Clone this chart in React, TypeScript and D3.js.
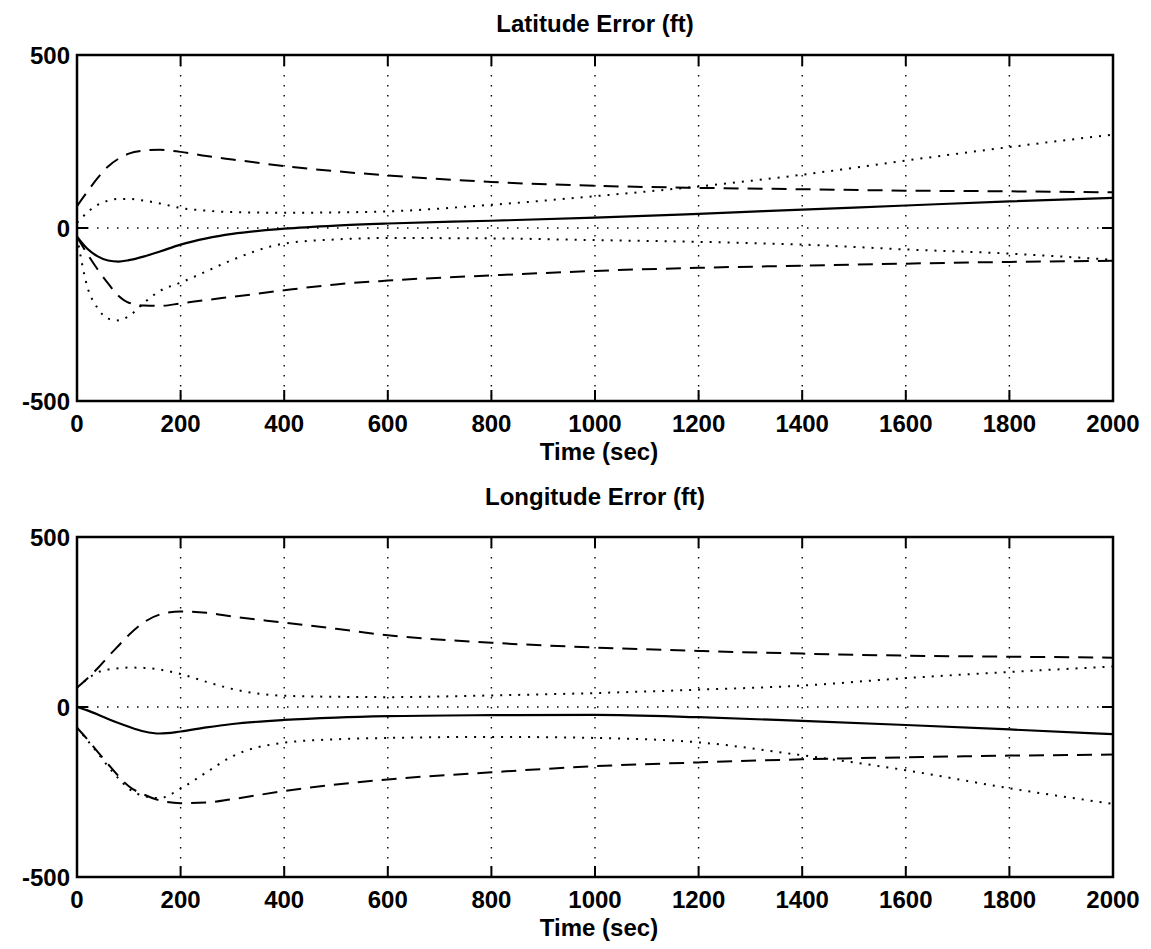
import React, { useRef, useEffect } from 'react'
import * as d3 from 'd3'

// time samples (sec) shared by every curve
const time = [0, 20, 40, 60, 80, 100, 130, 160, 200, 250, 300, 400, 500, 600, 800, 1000, 1200, 1400, 1600, 1800, 2000]

// Latitude error (ft)
const latMean = [-25, -60, -82, -94, -97, -93, -82, -68, -48, -30, -17, -2, 7, 13, 21, 30, 41, 53, 65, 77, 87]
const latUpperDash = [63, 105, 145, 178, 200, 215, 224, 226, 220, 208, 198, 179, 164, 152, 133, 122, 116, 112, 108, 106, 103]
const latLowerDash = [-25, -75, -120, -160, -196, -216, -224, -225, -218, -208, -199, -180, -163, -152, -137, -124, -115, -109, -103, -98, -95]
const latUpperDot = [15, 45, 67, 79, 84, 84, 79, 71, 58, 50, 46, 44, 45, 48, 67, 92, 120, 154, 195, 234, 270]
const latLowerDot = [-25, -170, -232, -262, -267, -255, -215, -182, -158, -125, -92, -45, -33, -29, -30, -35, -40, -48, -62, -74, -92]

// Longitude error (ft)
const lonMean = [0, -10, -22, -35, -47, -58, -72, -78, -72, -60, -50, -38, -31, -27, -24, -23, -30, -41, -53, -66, -80]
const lonUpperDash = [57, 84, 114, 148, 180, 212, 250, 272, 281, 277, 266, 248, 230, 211, 189, 175, 165, 157, 151, 148, 145]
const lonLowerDash = [-61, -95, -132, -168, -203, -233, -258, -275, -283, -281, -271, -247, -228, -213, -192, -174, -163, -154, -148, -143, -140]
const lonUpperDot = [57, 82, 102, 110, 114, 116, 115, 110, 97, 74, 53, 33, 30, 29, 34, 41, 51, 63, 85, 103, 119]
const lonLowerDot = [-61, -98, -135, -175, -210, -240, -262, -268, -240, -192, -145, -105, -95, -91, -88, -91, -104, -142, -186, -239, -285]

const xTicks = [0, 200, 400, 600, 800, 1000, 1200, 1400, 1600, 1800, 2000]
const yTicks = [-500, 0, 500]

const panels = [
    { title: 'Latitude Error (ft)', top: 55, bottom: 401, titleY: 32, series: [latMean, latUpperDash, latLowerDash, latUpperDot, latLowerDot] },
    { title: 'Longitude Error (ft)', top: 537, bottom: 877, titleY: 505, series: [lonMean, lonUpperDash, lonLowerDash, lonUpperDot, lonLowerDot] },
]

// solid, dashed, dashed, dotted, dotted
const dashes = [null, '15,9', '15,9', '2,7', '2,7']

const FONT = '"Liberation Sans", Arial, Helvetica, sans-serif'

const App = () => {
    const chartRef = useRef<SVGSVGElement | null>(null)

    useEffect(() => {
        if (!chartRef.current) return
        const svg = d3.select(chartRef.current)
        svg.selectAll('*').remove()

        const left = 77, right = 1113
        const x = d3.scaleLinear().domain([0, 2000]).range([left, right])

        panels.forEach((p) => {
            const y = d3.scaleLinear().domain([-500, 500]).range([p.bottom, p.top])
            const g = svg.append('g')

            // grid
            g.selectAll('.vgrid')
                .data(xTicks.slice(1, -1))
                .join('line')
                .attr('x1', (d) => x(d)).attr('x2', (d) => x(d))
                .attr('y1', p.top).attr('y2', p.bottom)
                .attr('stroke', '#000').attr('stroke-width', 1.4)
                .attr('stroke-dasharray', '1.5,8.5')
            g.append('line')
                .attr('x1', left).attr('x2', right)
                .attr('y1', y(0)).attr('y2', y(0))
                .attr('stroke', '#000').attr('stroke-width', 1.4)
                .attr('stroke-dasharray', '1.5,8.5')

            // curves
            const line = d3.line<number>()
                .x((_, i) => x(time[i]))
                .y((d) => y(d))
                .curve(d3.curveMonotoneX)
            p.series.forEach((s, i) => {
                g.append('path')
                    .attr('d', line(s))
                    .attr('fill', 'none')
                    .attr('stroke', '#000')
                    .attr('stroke-width', i === 0 ? 2.2 : 2)
                    .attr('stroke-dasharray', dashes[i])
            })

            // ticks (inward, all sides)
            xTicks.slice(1, -1).forEach((t) => {
                g.append('line').attr('x1', x(t)).attr('x2', x(t)).attr('y1', p.bottom).attr('y2', p.bottom - 11)
                    .attr('stroke', '#000').attr('stroke-width', 2)
                g.append('line').attr('x1', x(t)).attr('x2', x(t)).attr('y1', p.top).attr('y2', p.top + 11)
                    .attr('stroke', '#000').attr('stroke-width', 2)
            })
            g.append('line').attr('x1', left).attr('x2', left + 11).attr('y1', y(0)).attr('y2', y(0))
                .attr('stroke', '#000').attr('stroke-width', 2)
            g.append('line').attr('x1', right).attr('x2', right - 11).attr('y1', y(0)).attr('y2', y(0))
                .attr('stroke', '#000').attr('stroke-width', 2)

            // frame
            g.append('rect')
                .attr('x', left).attr('y', p.top)
                .attr('width', right - left).attr('height', p.bottom - p.top)
                .attr('fill', 'none').attr('stroke', '#000').attr('stroke-width', 2.5)

            // tick labels
            g.selectAll('.xl')
                .data(xTicks)
                .join('text')
                .attr('x', (d) => x(d))
                .attr('y', p.bottom + 31)
                .attr('text-anchor', 'middle')
                .attr('font-family', FONT).attr('font-size', 24).attr('font-weight', 'bold')
                .text((d) => d)
            g.selectAll('.yl')
                .data(yTicks)
                .join('text')
                .attr('x', 70)
                .attr('y', (d) => y(d) + 9)
                .attr('text-anchor', 'end')
                .attr('font-family', FONT).attr('font-size', 24).attr('font-weight', 'bold')
                .text((d) => d)

            // titles
            g.append('text')
                .attr('x', (left + right) / 2).attr('y', p.titleY)
                .attr('text-anchor', 'middle')
                .attr('font-family', FONT).attr('font-size', 24).attr('font-weight', 'bold')
                .text(p.title)
            g.append('text')
                .attr('x', (left + right) / 2 + 4).attr('y', p.bottom + 59)
                .attr('text-anchor', 'middle')
                .attr('font-family', FONT).attr('font-size', 24).attr('font-weight', 'bold')
                .text('Time (sec)')
        })
    }, [])

    return (
        <svg ref={chartRef} width={1151} height={949}
            style={{ position: 'absolute', left: 0, top: 0, background: '#fff' }} />
    )
}

export default App
